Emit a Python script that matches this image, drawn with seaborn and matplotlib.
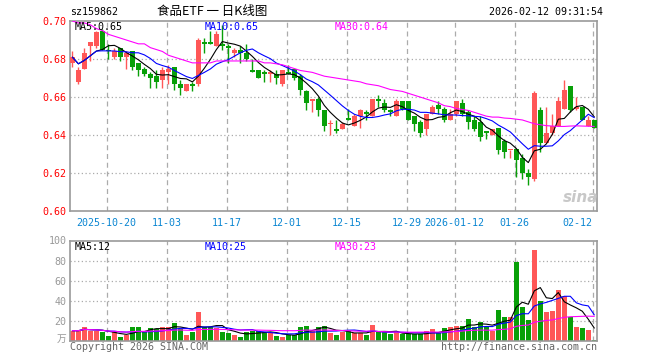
import numpy as np
import pandas as pd
import matplotlib
matplotlib.use("Agg")
import matplotlib.pyplot as plt
import seaborn as sns

# ---------------- data ----------------
open_ = [0.678, 0.668, 0.675, 0.687, 0.687, 0.695, 0.685, 0.681, 0.686, 0.681,
         0.684, 0.678, 0.675, 0.672, 0.671, 0.669, 0.673, 0.676, 0.667, 0.663,
         0.667, 0.667, 0.689, 0.689, 0.687, 0.688, 0.687, 0.683, 0.685, 0.683,
         0.674, 0.674, 0.673, 0.672, 0.672, 0.667, 0.673, 0.675, 0.671, 0.663,
         0.658, 0.659, 0.653, 0.646, 0.643, 0.643, 0.649, 0.645, 0.650, 0.652,
         0.650, 0.659, 0.657, 0.653, 0.650, 0.658, 0.658, 0.650, 0.647, 0.643,
         0.651, 0.656, 0.654, 0.648, 0.651, 0.657, 0.652, 0.648, 0.647, 0.642,
         0.640, 0.644, 0.637, 0.632, 0.633, 0.628, 0.620, 0.617, 0.653, 0.636,
         0.641, 0.645, 0.654, 0.666, 0.654, 0.655, 0.645, 0.648]
close = [0.681, 0.674, 0.683, 0.689, 0.694, 0.685, 0.684, 0.684, 0.681, 0.683,
         0.676, 0.674, 0.672, 0.670, 0.668, 0.674, 0.675, 0.667, 0.665, 0.667,
         0.666, 0.690, 0.688, 0.688, 0.693, 0.687, 0.686, 0.685, 0.683, 0.680,
         0.673, 0.670, 0.672, 0.673, 0.670, 0.674, 0.672, 0.670, 0.664, 0.657,
         0.659, 0.653, 0.645, 0.646, 0.642, 0.646, 0.648, 0.650, 0.653, 0.651,
         0.659, 0.658, 0.653, 0.652, 0.658, 0.654, 0.648, 0.646, 0.641, 0.651,
         0.655, 0.654, 0.648, 0.651, 0.658, 0.651, 0.647, 0.643, 0.639, 0.641,
         0.643, 0.632, 0.631, 0.632, 0.627, 0.620, 0.618, 0.662, 0.636, 0.641,
         0.645, 0.658, 0.664, 0.653, 0.655, 0.648, 0.648, 0.644]
high = [0.684, 0.676, 0.686, 0.689, 0.695, 0.696, 0.688, 0.686, 0.686, 0.684,
        0.684, 0.678, 0.676, 0.673, 0.674, 0.676, 0.677, 0.676, 0.669, 0.667,
        0.668, 0.691, 0.691, 0.695, 0.695, 0.698, 0.688, 0.686, 0.687, 0.688,
        0.680, 0.674, 0.674, 0.674, 0.674, 0.674, 0.677, 0.675, 0.672, 0.664,
        0.659, 0.660, 0.653, 0.648, 0.648, 0.647, 0.654, 0.651, 0.654, 0.653,
        0.659, 0.661, 0.659, 0.654, 0.659, 0.658, 0.658, 0.650, 0.648, 0.651,
        0.656, 0.658, 0.655, 0.654, 0.658, 0.659, 0.653, 0.650, 0.650, 0.642,
        0.643, 0.644, 0.638, 0.632, 0.633, 0.630, 0.622, 0.663, 0.655, 0.655,
        0.651, 0.660, 0.669, 0.666, 0.660, 0.655, 0.650, 0.648]
low = [0.676, 0.667, 0.675, 0.679, 0.686, 0.685, 0.680, 0.680, 0.679, 0.675,
       0.674, 0.671, 0.671, 0.665, 0.665, 0.665, 0.667, 0.664, 0.661, 0.663,
       0.663, 0.666, 0.683, 0.688, 0.687, 0.685, 0.678, 0.681, 0.678, 0.679,
       0.673, 0.670, 0.668, 0.668, 0.667, 0.666, 0.672, 0.669, 0.661, 0.653,
       0.652, 0.650, 0.642, 0.640, 0.641, 0.643, 0.648, 0.645, 0.644, 0.648,
       0.650, 0.655, 0.652, 0.650, 0.650, 0.653, 0.648, 0.642, 0.639, 0.640,
       0.651, 0.651, 0.647, 0.648, 0.650, 0.650, 0.643, 0.642, 0.637, 0.638,
       0.640, 0.630, 0.628, 0.628, 0.618, 0.617, 0.614, 0.616, 0.631, 0.636,
       0.640, 0.645, 0.654, 0.652, 0.653, 0.648, 0.645, 0.644]
ma30_price = [0.700, 0.699, 0.699, 0.698, 0.696, 0.695, 0.693, 0.692, 0.691, 0.690,
              0.689, 0.688, 0.688, 0.686, 0.685, 0.684, 0.682, 0.681, 0.680, 0.679,
              0.678, 0.678, 0.678, 0.678, 0.679, 0.679, 0.679, 0.679, 0.679, 0.679,
              0.679, 0.679, 0.678, 0.678, 0.6775, 0.677, 0.676, 0.675, 0.674, 0.6735,
              0.673, 0.672, 0.671, 0.6705, 0.670, 0.6695, 0.669, 0.6685, 0.668, 0.667,
              0.6665, 0.666, 0.665, 0.664, 0.6635, 0.663, 0.662, 0.661, 0.660, 0.659,
              0.658, 0.657, 0.6555, 0.655, 0.654, 0.6535, 0.653, 0.652, 0.651, 0.650,
              0.6495, 0.6495, 0.649, 0.6488, 0.6484, 0.648, 0.647, 0.646, 0.6455, 0.645,
              0.6448, 0.6446, 0.6446, 0.6448, 0.6449, 0.6448, 0.6447, 0.6446]
volume = [10.0, 10.0, 14.0, 10.0, 10.0, 8.3, 5.0, 8.3, 4.0, 6.0,
          14.0, 13.3, 8.3, 13.0, 11.6, 14.0, 13.3, 18.0, 11.6, 6.0,
          8.3, 28.3, 13.3, 13.3, 12.3, 8.3, 7.3, 6.0, 4.0, 8.3,
          10.0, 10.0, 8.3, 7.3, 5.0, 3.3, 6.0, 6.0, 14.0, 15.0,
          10.0, 14.0, 15.0, 7.3, 6.0, 8.3, 9.3, 7.6, 7.6, 6.0,
          16.0, 8.6, 8.3, 6.3, 8.3, 6.3, 6.3, 6.3, 6.6, 9.3,
          11.3, 7.3, 13.0, 13.3, 14.6, 15.0, 22.0, 13.3, 19.0, 13.3,
          10.0, 31.0, 24.0, 24.0, 79.0, 34.0, 21.0, 91.0, 40.0, 28.3,
          30.0, 51.0, 45.0, 24.0, 14.0, 13.0, 11.0, 1.0]
tick_idx = [6, 16, 26, 36, 46, 56, 64, 74, 87]
tick_labels = ["2025-10-20", "11-03", "11-17", "12-01", "12-15", "12-29",
               "2026-01-12", "01-26", "02-12"]
price_ticks = [0.60, 0.62, 0.64, 0.66, 0.68, 0.70]
vol_ticks = [20, 40, 60, 80, 100]

# ---------------- styling ----------------
sns.set_theme(style="white")
plt.rcParams['font.family'] = ['DejaVu Sans Mono', 'Noto Sans CJK SC']

RED = '#FF5757'
GREEN = '#08A008'
FRAME = '#9A9A9A'
GRID = '#ABABAB'
BLUE_TXT = '#0A86D2'
MONO = 7.2

df = pd.DataFrame({'o': open_, 'c': close, 'h': high, 'l': low, 'v': volume,
                   'ma30': ma30_price})
df['i'] = np.arange(len(df))
df['ma5'] = df['c'].rolling(5, min_periods=1).mean()
df['ma10'] = df['c'].rolling(10, min_periods=1).mean()
df['v5'] = df['v'].rolling(5, min_periods=1).mean()
df['v10'] = df['v'].rolling(10, min_periods=1).mean()
df['v30'] = df['v'].rolling(30, min_periods=1).mean()
up = df['c'] >= df['o']
colors = np.where(up, RED, GREEN)

W, H = 660, 360
fig = plt.figure(figsize=(W / 100, H / 100), dpi=100)
fig.patch.set_facecolor('white')

L, R = 70.3, 597.0
ax = fig.add_axes([L / W, 1 - 211.3 / H, (R - L) / W, (211.3 - 21.0) / H])
axv = fig.add_axes([L / W, 1 - 340.7 / H, (R - L) / W, (340.7 - 240.5) / H])

xmin, xmax = -0.35, 87.45
grid_x = [t - 0.3 for t in tick_idx]

for a in (ax, axv):
    a.set_facecolor('white')
    a.set_xlim(xmin, xmax)
    for s in a.spines.values():
        s.set_color(FRAME)
        s.set_linewidth(1.2)
    for gx in grid_x:
        a.axvline(gx, color=GRID, lw=0.9, ls=(0, (4, 3)), zorder=0)
    a.tick_params(axis='both', length=0)

# ---- price panel ----
ax.set_ylim(0.60, 0.70)
for gy in [0.62, 0.64, 0.66, 0.68]:
    ax.axhline(gy, color=GRID, lw=0.9, ls=(0, (1, 2)), zorder=0)

ax.vlines(df['i'], df['l'], df['h'], colors=colors, lw=1.0, zorder=2)
body_bottom = np.minimum(df['o'], df['c'])
body_h = np.maximum(np.abs(df['c'] - df['o']), 0.0005)
ax.bar(df['i'], body_h, bottom=body_bottom, width=0.78, color=colors,
       linewidth=0, zorder=3)

sns.lineplot(data=df, x='i', y='ma5', ax=ax, color='black', lw=0.8, zorder=4, legend=False)
sns.lineplot(data=df, x='i', y='ma10', ax=ax, color='#0000FF', lw=0.8, zorder=4, legend=False)
sns.lineplot(data=df, x='i', y='ma30', ax=ax, color='#FF00FF', lw=0.8, zorder=4, legend=False)

ax.set_yticks(price_ticks)
ax.set_yticklabels([f"{t:.2f}" for t in price_ticks], color='#FF0000',
                   fontsize=MONO, family='DejaVu Sans Mono')
ax.tick_params(axis='y', pad=2.6)
ax.set_xticks(grid_x)
ax.set_xticklabels(tick_labels, color=BLUE_TXT, fontsize=MONO, family='DejaVu Sans Mono')
ax.tick_params(axis='x', pad=4.5)
for k, lab in enumerate(ax.get_xticklabels()):
    if k == len(tick_labels) - 1:
        lab.set_horizontalalignment('right')
        lab.set_x(grid_x[k])
ax.set_xlabel('')
ax.set_ylabel('')

# ---- volume panel ----
axv.set_ylim(0, 100)
for gy in [20, 40, 60, 80]:
    axv.axhline(gy, color=GRID, lw=0.9, ls=(0, (1, 2)), zorder=0)
axv.bar(df['i'], df['v'], width=0.82, color=colors, linewidth=0, zorder=2)
sns.lineplot(data=df, x='i', y='v5', ax=axv, color='black', lw=0.8, zorder=4, legend=False)
sns.lineplot(data=df, x='i', y='v10', ax=axv, color='#0000FF', lw=0.8, zorder=4, legend=False)
sns.lineplot(data=df, x='i', y='v30', ax=axv, color='#FF00FF', lw=0.8, zorder=4, legend=False)
axv.set_yticks(vol_ticks)
axv.set_yticklabels([str(t) for t in vol_ticks], color='#999999', fontsize=MONO,
                    family='DejaVu Sans Mono')
axv.tick_params(axis='y', pad=2.6)
axv.set_xticks([])
axv.set_xlabel('')
axv.set_ylabel('')


def ftext(x, y, s, **kw):
    fig.text(x / W, 1 - y / H, s, **kw)


# header
ftext(70, 12, 'sz159862', ha='left', va='center', fontsize=MONO, color='black',
      family='DejaVu Sans Mono')
ftext(212, 12, '食品ETF 一 日K线图', ha='center', va='center', fontsize=9,
      color='black', family=['Noto Sans CJK SC', 'DejaVu Sans'])
ftext(603, 12, '2026-02-12 09:31:54', ha='right', va='center', fontsize=MONO,
      color='black', family='DejaVu Sans Mono')

# MA labels
ftext(74.7, 27, 'MA5:0.65', ha='left', va='center', fontsize=MONO, color='black')
ftext(205, 27, 'MA10:0.65', ha='left', va='center', fontsize=MONO, color='#0000FF')
ftext(335, 27, 'MA30:0.64', ha='left', va='center', fontsize=MONO, color='#FF00FF')
ftext(74.7, 246.5, 'MA5:12', ha='left', va='center', fontsize=MONO, color='black')
ftext(204.3, 246.5, 'MA10:25', ha='left', va='center', fontsize=MONO, color='#0000FF')
ftext(335, 246.5, 'MA30:23', ha='left', va='center', fontsize=MONO, color='#FF00FF')

# unit + footer
ftext(66.7, 339, '万', ha='right', va='center', fontsize=7, color='#999999',
      family=['Noto Sans CJK SC', 'DejaVu Sans'])
ftext(70, 347, 'Copyright 2026 SINA.COM', ha='left', va='center', fontsize=MONO,
      color='#666666')
ftext(597, 347, 'http://finance.sina.com.cn', ha='right', va='center',
      fontsize=MONO, color='#666666')

# watermark
ftext(581, 197, 'sina', ha='center', va='center', fontsize=11, color='#C8C8C8',
      style='italic', weight='bold', family='DejaVu Sans')

fig.savefig('out.png', dpi=100, facecolor='white')
